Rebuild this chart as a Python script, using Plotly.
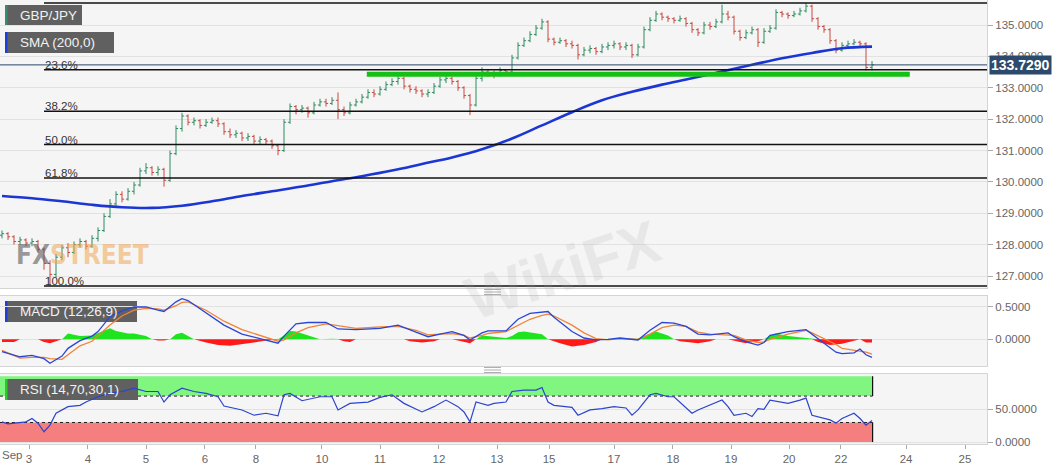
import plotly.graph_objects as go

# ---------------- data ----------------
first_open = 128.30
closes = [128.35,128.25,128.10,128.15,128.05,128.10,127.85,127.40,127.05,127.60,
          127.90,127.75,128.00,128.10,127.95,128.20,128.45,128.90,129.30,129.60,
          129.45,129.70,129.90,130.35,130.45,130.30,130.40,130.05,130.90,131.70,
          132.10,131.90,131.95,131.80,131.90,131.95,131.85,131.60,131.50,131.55,
          131.40,131.45,131.30,131.35,131.30,131.15,131.00,131.90,132.40,132.30,
          132.35,132.20,132.45,132.55,132.50,132.60,132.30,132.20,132.45,132.55,
          132.70,132.85,132.80,132.95,133.10,133.20,133.30,133.05,132.95,132.90,
          132.80,132.85,133.05,133.25,133.30,133.20,133.00,132.75,132.45,133.30,
          133.50,133.45,133.40,133.55,133.50,133.95,134.35,134.50,134.70,134.90,
          135.10,134.55,134.45,134.50,134.40,134.35,134.05,134.20,134.25,134.15,
          134.30,134.35,134.40,134.30,134.35,134.05,134.30,134.85,135.15,135.35,
          135.25,135.20,135.15,135.20,135.05,134.85,134.75,135.00,134.95,135.10,
          135.35,135.25,134.80,134.60,134.75,134.85,134.45,134.80,134.90,135.40,
          135.35,135.30,135.35,135.45,135.60,135.20,134.95,134.85,134.50,134.20,
          134.35,134.40,134.45,134.40,133.65,133.729]
highs = [128.45,128.40,128.30,128.25,128.20,128.20,128.15,127.90,127.50,127.70,
         128.00,128.05,128.10,128.20,128.15,128.30,128.55,129.00,129.45,129.70,
         129.70,129.80,130.00,130.45,130.60,130.50,130.50,130.45,131.00,131.80,
         132.20,132.15,132.05,132.00,132.00,132.05,132.05,131.90,131.70,131.65,
         131.60,131.55,131.50,131.45,131.40,131.35,131.20,132.00,132.50,132.45,
         132.45,132.40,132.55,132.65,132.65,132.70,132.85,132.40,132.55,132.65,
         132.80,132.95,132.95,133.05,133.20,133.30,133.40,133.35,133.10,133.05,
         132.95,132.95,133.15,133.35,133.40,133.35,133.25,133.05,132.80,133.40,
         133.65,133.60,133.55,133.65,133.60,134.05,134.45,134.60,134.80,135.00,
         135.20,135.15,134.60,134.60,134.55,134.50,134.40,134.30,134.35,134.30,
         134.40,134.45,134.50,134.45,134.45,134.40,134.40,134.95,135.25,135.45,
         135.40,135.30,135.25,135.30,135.25,135.10,134.90,135.10,135.10,135.20,
         135.65,135.45,135.30,134.85,134.85,134.95,134.90,134.90,135.00,135.50,
         135.45,135.40,135.45,135.55,135.70,135.65,135.25,135.00,134.90,134.55,
         134.45,134.50,134.55,134.50,134.45,133.85]
lows = [128.20,128.15,128.00,128.00,127.95,127.95,127.75,127.20,126.68,126.95,
        127.50,127.60,127.70,127.90,127.85,127.90,128.10,128.40,128.85,129.20,
        129.35,129.40,129.60,129.85,130.25,130.20,130.20,129.85,130.00,130.85,
        131.60,131.80,131.80,131.70,131.75,131.85,131.75,131.50,131.40,131.40,
        131.30,131.30,131.20,131.20,131.20,131.05,130.85,130.95,131.85,132.15,
        132.20,132.05,132.15,132.40,132.40,132.45,132.00,132.10,132.15,132.40,
        132.50,132.65,132.70,132.75,132.90,133.05,133.10,132.95,132.85,132.80,
        132.70,132.70,132.80,133.00,133.15,133.10,132.90,132.65,132.13,132.40,
        133.20,133.35,133.30,133.35,133.40,133.45,133.90,134.30,134.45,134.65,
        134.85,134.45,134.35,134.40,134.30,134.25,133.90,134.00,134.10,134.05,
        134.10,134.20,134.25,134.20,134.20,133.95,134.00,134.25,134.80,135.10,
        135.15,135.10,135.05,135.10,134.95,134.75,134.65,134.70,134.85,134.90,
        135.05,135.15,134.70,134.50,134.55,134.70,134.30,134.40,134.75,134.85,
        135.25,135.20,135.25,135.30,135.40,135.10,134.85,134.75,134.40,134.10,
        134.15,134.30,134.35,134.30,133.55,133.55]

sma_bars = [0,5,10,15,20,25,30,35,40,45,50,55,60,65,70,75,80,85,90,95,
            100,105,110,115,120,125,130,135,140,145]
sma_vals = [129.55,129.48,129.38,129.27,129.19,129.17,129.24,129.38,129.55,129.70,
            129.85,130.02,130.18,130.36,130.57,130.78,131.04,131.38,131.80,132.22,
            132.60,132.87,133.10,133.30,133.52,133.73,133.94,134.11,134.26,134.31]

macd_bars = [0,3,5,7,8,10,11,13,15,16,18,20,22,24,26,27,29,30,31,34,
             37,40,43,46,47,49,51,54,56,59,63,66,69,71,73,75,77,78,80,81,
             84,86,88,90,91,92,95,97,99,101,103,106,108,110,112,114,116,118,121,122,
             124,126,127,128,131,134,135,137,139,140,142,143,144,145]
macd_line = [-0.19,-0.27,-0.25,-0.30,-0.37,-0.26,-0.14,-0.02,0.05,0.12,0.35,0.44,0.50,0.50,0.45,0.43,0.58,0.63,0.60,0.41,
             0.22,0.08,0.01,-0.06,0.05,0.24,0.26,0.26,0.16,0.15,0.17,0.22,0.11,0.04,0.08,0.12,0.06,-0.01,0.10,0.13,
             0.13,0.31,0.40,0.42,0.43,0.34,0.12,0.02,-0.01,0.00,0.02,-0.01,0.14,0.26,0.25,0.20,0.08,0.07,0.10,0.04,
             -0.04,-0.09,-0.05,0.06,0.12,0.15,0.08,-0.06,-0.20,-0.22,-0.21,-0.15,-0.24,-0.28]
signal_line = [-0.17,-0.29,-0.28,-0.28,-0.30,-0.31,-0.24,-0.10,-0.03,0.05,0.22,0.36,0.45,0.48,0.47,0.45,0.52,0.57,0.58,0.45,
               0.28,0.15,0.06,-0.03,-0.01,0.10,0.18,0.24,0.21,0.17,0.19,0.20,0.14,0.07,0.08,0.09,0.06,0.02,0.06,0.09,
               0.12,0.22,0.31,0.37,0.39,0.36,0.22,0.10,0.01,-0.01,0.01,0.00,0.08,0.18,0.22,0.20,0.11,0.08,0.07,0.06,
               -0.01,-0.05,-0.04,0.00,0.08,0.14,0.10,0.01,-0.08,-0.14,-0.17,-0.18,-0.20,-0.23]

hist_bars = [0,2,3,4,6,7,8,9,10,11,12,13,15,17,18,19,21,22,24,25,
             26,27,28,29,30,31,32,34,36,38,40,42,44,46,47,48,49,51,52,53,
             55,56,57,58,59,60,66,67,68,70,72,73,74,75,76,78,79,80,82,84,
             85,86,87,89,90,91,93,95,97,99,100,101,106,107,109,111,112,113,116,118,
             119,120,121,123,124,126,127,128,129,131,134,135,136,138,140,142,143,144,145]
hist_vals = [-0.04,-0.04,0.0,0.01,0.0,-0.04,-0.06,-0.03,0.0,0.09,0.07,0.05,0.06,0.14,0.17,0.13,0.09,0.09,0.05,0.0,
             -0.02,-0.02,0.0,0.08,0.10,0.05,0.0,-0.05,-0.09,-0.10,-0.08,-0.05,-0.02,0.0,0.06,0.13,0.12,0.06,0.02,0.0,
             0.01,0.0,-0.03,-0.04,0.0,0.01,0.01,0.0,-0.03,-0.05,-0.03,0.0,0.01,0.0,-0.02,-0.06,0.0,0.06,0.04,0.02,
             0.05,0.11,0.12,0.10,0.08,0.0,-0.06,-0.11,-0.09,-0.04,0.0,0.01,0.01,0.05,0.12,0.06,0.0,-0.03,-0.06,-0.03,
             0.0,0.01,0.0,-0.04,-0.06,-0.03,0.0,0.06,0.09,0.05,0.02,0.0,-0.04,-0.09,-0.07,-0.02,0.0,-0.05,-0.05]

rsi_bars = [0,1,4,5,6,7,8,9,11,13,14,16,18,20,22,24,26,27,28,30,
            32,34,36,37,40,42,44,46,47,48,50,53,55,56,58,61,63,65,67,69,
            70,72,74,76,77,78,79,81,82,84,85,87,89,90,91,92,95,96,98,100,
            102,104,105,106,108,109,111,112,113,115,116,118,120,121,122,124,125,126,127,128,
            131,133,134,135,136,138,139,140,142,143,144,145]
rsi_vals = [31,28,31,36,29,16,26,44,54,56,61,69,74,77,82,77,77,61,72,82,
            77,74,69,55,49,41,44,40,72,74,63,69,69,49,59,61,68,72,59,51,
            46,54,64,54,46,31,61,56,59,61,77,79,79,83,61,56,53,41,49,51,
            54,52,41,49,72,74,69,69,61,44,49,56,64,54,41,44,39,51,50,64,
            59,64,67,41,39,34,29,36,44,36,26,33]

price_ticks = [127, 128, 129, 130, 131, 132, 133, 134, 135]
macd_ticks = [0.0, 0.5]
rsi_ticks = [0, 50]
day_labels = ['3', '4', '5', '6', '8', '10', '11', '12', '13', '15', '17', '18', '19', '20', '22', '24', '25']
day_bars = [4.5, 14.33, 24.0, 33.83, 42.33, 53.33, 63.0, 72.83, 82.5, 91.17, 102.0, 111.83, 121.5, 131.17, 139.83, 150.67, 160.5]
fib_ratios = [0.0, 0.236, 0.382, 0.5, 0.618, 1.0]
fib_start_bar = 7.0
support_level = 133.43
support_from_bar = 60.8
support_to_bar = 151.3
last_price = 133.729
rsi_upper, rsi_lower = 70, 30

# ---------------- geometry ----------------
W, H = 1063, 469
ML, MR, MT, MB = 0, 76, 0, 25
PW = W - ML - MR
PH = H - MT - MB
BAR0_PX, BAR_PX = 2.0, 6.0
x_lo = (0 - BAR0_PX) / BAR_PX
x_hi = (PW - BAR0_PX) / BAR_PX

def yd(py):
    return 1 - py / PH

def xd(px):
    return px / PW

def xdata(px):
    return x_lo + px / PW * (x_hi - x_lo)

MAIN = (0, 288)
MACDP = (296, 366)
RSIP = (374, 444)
main_range = [127 - (MAIN[1] - 276) / 31.375, 135 + 25 / 31.375]
macd_range = [-0.413, 0.670]
rsi_range = [-2.6, 103.5]

def ydata(py, panel, rng):
    top, bot = panel
    return rng[1] - (py - top) / (bot - top) * (rng[1] - rng[0])

bars = list(range(len(closes)))
opens = [first_open] + closes[:-1]
last_bar = bars[-1]

FONT = "Liberation Sans, Arial, sans-serif"
fig = go.Figure()

fig.add_trace(go.Ohlc(x=bars, open=opens, high=highs, low=lows, close=closes,
                      xaxis='x', yaxis='y', tickwidth=0.35,
                      increasing=dict(line=dict(color='#2f8c60', width=1)),
                      decreasing=dict(line=dict(color='#c8493e', width=1)),
                      showlegend=False, hoverinfo='skip'))
fig.add_trace(go.Scatter(x=sma_bars, y=sma_vals, mode='lines', xaxis='x', yaxis='y',
                         line=dict(color='#1b36d2', width=2.6, shape='spline'),
                         showlegend=False, hoverinfo='skip'))

fig.add_trace(go.Scatter(x=hist_bars, y=[max(v, 0) for v in hist_vals], mode='lines',
                         fill='tozeroy', fillcolor='#1de41d', line=dict(width=0, color='#1de41d'),
                         xaxis='x2', yaxis='y2', showlegend=False, hoverinfo='skip'))
fig.add_trace(go.Scatter(x=hist_bars, y=[min(v, 0) for v in hist_vals], mode='lines',
                         fill='tozeroy', fillcolor='#ff1a1a', line=dict(width=0, color='#ff1a1a'),
                         xaxis='x2', yaxis='y2', showlegend=False, hoverinfo='skip'))
fig.add_trace(go.Scatter(x=macd_bars, y=signal_line, mode='lines', xaxis='x2', yaxis='y2',
                         line=dict(color='#f0843a', width=1.3), showlegend=False, hoverinfo='skip'))
fig.add_trace(go.Scatter(x=macd_bars, y=macd_line, mode='lines', xaxis='x2', yaxis='y2',
                         line=dict(color='#2a46d4', width=1.3), showlegend=False, hoverinfo='skip'))

fig.add_trace(go.Scatter(x=rsi_bars, y=rsi_vals, mode='lines', xaxis='x3', yaxis='y3',
                         line=dict(color='#2b44cc', width=1.2), showlegend=False, hoverinfo='skip'))

axis_common = dict(showline=True, mirror=True, linecolor='#d4d4d4', linewidth=1, zeroline=False)
ytick_common = dict(side='right', ticks='outside', ticklen=5, tickcolor='#aaaaaa',
                    tickfont=dict(family=FONT, size=11.5, color='#666666'),
                    gridcolor='#e2e2e2', showgrid=True)

fig.update_layout(
    width=W, height=H, autosize=False,
    margin=dict(l=ML, r=MR, t=MT, b=MB),
    paper_bgcolor='white', plot_bgcolor='#f5f5f5',
    font=dict(family=FONT, color='#444'),
    showlegend=False,
    xaxis=dict(domain=[0, 1], range=[x_lo, x_hi], anchor='y', showticklabels=False, showgrid=False,
               rangeslider=dict(visible=False), **axis_common),
    xaxis2=dict(domain=[0, 1], range=[x_lo, x_hi], anchor='y2', matches='x', showticklabels=False,
                showgrid=False, **axis_common),
    xaxis3=dict(domain=[0, 1], range=[x_lo, x_hi], anchor='y3', matches='x', showgrid=False,
                tickmode='array', tickvals=day_bars, ticktext=day_labels,
                ticks='outside', ticklen=4, tickcolor='#aaaaaa',
                tickfont=dict(family=FONT, size=11.5, color='#666666'), **axis_common),
    yaxis=dict(domain=[yd(MAIN[1]), yd(MAIN[0])], anchor='x', range=main_range,
               tickmode='array', tickvals=price_ticks, ticktext=[f"{v:.4f}" for v in price_ticks],
               **ytick_common, **axis_common),
    yaxis2=dict(domain=[yd(MACDP[1]), yd(MACDP[0])], anchor='x2', range=macd_range,
                tickmode='array', tickvals=macd_ticks, ticktext=[f"{v:.4f}" for v in macd_ticks],
                **ytick_common, **axis_common),
    yaxis3=dict(domain=[yd(RSIP[1]), yd(RSIP[0])], anchor='x3', range=rsi_range,
                tickmode='array', tickvals=rsi_ticks, ticktext=[f"{v:.4f}" for v in rsi_ticks],
                **ytick_common, **axis_common),
)

shapes = []
annotations = []

# RSI bands
shapes.append(dict(type='rect', xref='x3', yref='y3', x0=x_lo, x1=last_bar + 0.1, y0=rsi_upper, y1=100,
                   fillcolor='#80f57f', line=dict(width=0), layer='below'))
shapes.append(dict(type='rect', xref='x3', yref='y3', x0=x_lo, x1=last_bar + 0.1, y0=0, y1=rsi_lower,
                   fillcolor='#f57f7f', line=dict(width=0), layer='below'))
for lvl in (rsi_upper, rsi_lower):
    shapes.append(dict(type='line', xref='x3', yref='y3', x0=x_lo, x1=last_bar + 0.1, y0=lvl, y1=lvl,
                       line=dict(color='#222222', width=1, dash='dot'), layer='below'))
for a, b in ((rsi_upper, 100), (0, rsi_lower)):
    shapes.append(dict(type='line', xref='x3', yref='y3', x0=last_bar + 0.1, x1=last_bar + 0.1, y0=a, y1=b,
                       line=dict(color='#111111', width=1.2), layer='below'))

# Fibonacci retracement
fib_hi, fib_lo = max(highs), min(lows)
for r in fib_ratios:
    lvl = fib_hi - r * (fib_hi - fib_lo)
    shapes.append(dict(type='line', xref='x', yref='y', x0=fib_start_bar, x1=x_hi, y0=lvl, y1=lvl,
                       line=dict(color='#111111', width=1.5)))
    if r > 0:
        annotations.append(dict(xref='x', yref='y', x=fib_start_bar - 0.2, y=lvl, text=f"{r * 100:.1f}%",
                                xanchor='left', yanchor='bottom', yshift=-3, showarrow=False,
                                font=dict(family=FONT, size=11.5, color='#333333')))

# support line and current price line
shapes.append(dict(type='line', xref='x', yref='y', x0=support_from_bar, x1=support_to_bar,
                   y0=support_level, y1=support_level, line=dict(color='#13c013', width=5)))
shapes.append(dict(type='line', xref='paper', yref='y', x0=0, x1=1, y0=last_price, y1=last_price,
                   line=dict(color='#2c4668', width=1)))
annotations.append(dict(xref='paper', yref='y', x=xd(989), y=last_price, text=f"<b>{last_price:.4f}</b>",
                        xanchor='left', yanchor='middle', showarrow=False, bgcolor='#2c4a6c', borderpad=1,
                        font=dict(family=FONT, size=14, color='white')))

# label boxes (in data coordinates of each panel, below the traces)
def box(panel, rng, axx, axy, px0, px1, py0, py1, accent, text):
    y0, y1 = ydata(py1, panel, rng), ydata(py0, panel, rng)
    shapes.append(dict(type='rect', xref=axx, yref=axy, x0=xdata(px0), x1=xdata(px1), y0=y0, y1=y1,
                       fillcolor='#606060', line=dict(width=0), layer='below'))
    shapes.append(dict(type='rect', xref=axx, yref=axy, x0=xdata(px0), x1=xdata(px0 + 2.5), y0=y0, y1=y1,
                       fillcolor=accent, line=dict(width=0), layer='below'))
    annotations.append(dict(xref=axx, yref=axy, x=xdata(px0 + 13), y=ydata((py0 + py1) / 2, panel, rng),
                            text=text, xanchor='left', yanchor='middle', showarrow=False,
                            font=dict(family=FONT, size=13.5, color='#f2f2f2')))

box(MAIN, main_range, 'x', 'y', 5, 82, 5, 26, '#3b8a6c', 'GBP/JPY')
box(MAIN, main_range, 'x', 'y', 5, 114, 32, 53, '#1e3fe0', 'SMA (200,0)')
box(MACDP, macd_range, 'x2', 'y2', 5, 137, 301, 322, '#1e3fe0', 'MACD (12,26,9)')
box(RSIP, rsi_range, 'x3', 'y3', 5, 138, 379, 400, '#28cc28', 'RSI (14,70,30,1)')

# panel drag handles
for base in (289.5, 367.5):
    for k in range(3):
        shapes.append(dict(type='line', xref='paper', yref='paper', x0=xd(484), x1=xd(501),
                           y0=yd(base + 2.5 * k), y1=yd(base + 2.5 * k),
                           line=dict(color='#9a9a9a', width=0.8)))

# month label
annotations.append(dict(xref='paper', yref='paper', x=0, y=yd(455.5), text='Sep', xanchor='left',
                        yanchor='middle', showarrow=False, font=dict(family=FONT, size=11.5, color='#666666')))

# watermarks
annotations.append(dict(xref='paper', yref='paper', x=xd(14), y=yd(255), xanchor='left', yanchor='middle',
                        showarrow=False,
                        text="<b><span style='color:rgba(90,90,90,0.6)'>FX</span>"
                             "<span style='color:rgba(240,165,80,0.55)'>STREET</span></b>",
                        font=dict(family='DejaVu Sans Condensed, Liberation Sans Narrow, sans-serif', size=26)))
annotations.append(dict(xref='paper', yref='paper', x=xd(562), y=yd(270), xanchor='center', yanchor='middle',
                        showarrow=False, text='<b>WikiFX</b>', textangle=-18,
                        font=dict(family=FONT, size=60, color='rgba(160,160,160,0.16)')))

fig.update_layout(shapes=shapes, annotations=annotations)
fig.write_html("out.html", config={'displayModeBar': False},
               post_script="document.body.style.margin='0px';document.body.style.padding='0px';")
